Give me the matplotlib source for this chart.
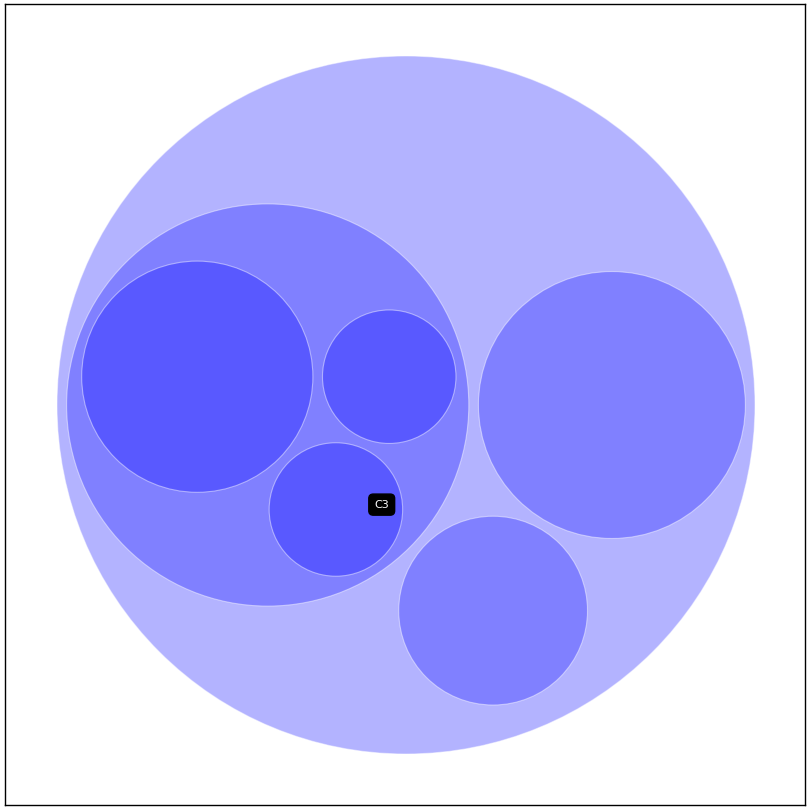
import math
import matplotlib
matplotlib.use("Agg")
import matplotlib.pyplot as plt
from matplotlib.patches import Circle

# ---- data ----
group_names = ["C", "B", "D"]
group_children = {
    "C": ["C1", "C2", "C3"],
    "B": [],
    "D": [],
}
leaf_values = {"C1": 3, "C2": 1, "C3": 1, "B": 4, "D": 2}
depth_colors = ["#b3b3ff", "#8080ff", "#5959ff"]
highlight = "C3"

# ---- d3-style circle packing ----
def basis2(a, b):
    x1, y1, r1 = a; x2, y2, r2 = b
    x21, y21, r21 = x2 - x1, y2 - y1, r2 - r1
    l = math.hypot(x21, y21)
    return ((x1 + x2 + x21 / l * r21) / 2, (y1 + y2 + y21 / l * r21) / 2, (l + r1 + r2) / 2)

def basis3(a, b, c):
    x1, y1, r1 = a; x2, y2, r2 = b; x3, y3, r3 = c
    a2 = x1 - x2; a3 = x1 - x3; b2 = y1 - y2; b3 = y1 - y3
    c2 = r2 - r1; c3 = r3 - r1
    d1 = x1 * x1 + y1 * y1 - r1 * r1
    d2 = d1 - x2 * x2 - y2 * y2 + r2 * r2
    d3 = d1 - x3 * x3 - y3 * y3 + r3 * r3
    ab = a3 * b2 - a2 * b3
    xa = (b2 * d3 - b3 * d2) / (ab * 2) - x1
    xb = (b3 * c2 - b2 * c3) / ab
    ya = (a3 * d2 - a2 * d3) / (ab * 2) - y1
    yb = (a2 * c3 - a3 * c2) / ab
    A = xb * xb + yb * yb - 1
    B = 2 * (r1 + xa * xb + ya * yb)
    C = xa * xa + ya * ya - r1 * r1
    r = -((B + math.sqrt(B * B - 4 * A * C)) / (2 * A) if abs(A) > 1e-6 else C / B)
    return (x1 + xa + xb * r, y1 + ya + yb * r, r)

def encloses(e, c):
    return e[2] - math.hypot(c[0] - e[0], c[1] - e[1]) - c[2] >= -1e-6

def enclose(cs):
    cands = list(cs)
    n = len(cs)
    for i in range(n):
        for j in range(i + 1, n):
            cands.append(basis2(cs[i], cs[j]))
            for k in range(j + 1, n):
                try:
                    cands.append(basis3(cs[i], cs[j], cs[k]))
                except Exception:
                    pass
    best = None
    for e in cands:
        if all(encloses(e, c) for c in cs):
            if best is None or e[2] < best[2]:
                best = e
    return best

def place(b, a, c_r):
    dx = b[0] - a[0]; dy = b[1] - a[1]
    d2 = dx * dx + dy * dy
    A2 = (a[2] + c_r) ** 2
    B2 = (b[2] + c_r) ** 2
    if A2 > B2:
        x = (d2 + B2 - A2) / (2 * d2)
        y = math.sqrt(max(0, B2 / d2 - x * x))
        return (b[0] - x * dx - y * dy, b[1] - x * dy + y * dx)
    x = (d2 + A2 - B2) / (2 * d2)
    y = math.sqrt(max(0, A2 / d2 - x * x))
    return (a[0] + x * dx - y * dy, a[1] + x * dy + y * dx)

def pack_siblings(radii):
    # works for up to 3 circles (enough here)
    if len(radii) == 1:
        cs = [(0.0, 0.0, radii[0])]
    else:
        ra, rb = radii[0], radii[1]
        a = (-rb, 0.0, ra); b = (ra, 0.0, rb)
        cs = [a, b]
        if len(radii) > 2:
            x, y = place(b, a, radii[2])
            cs.append((x, y, radii[2]))
    e = enclose(cs)
    return [(c[0] - e[0], c[1] - e[1], c[2]) for c in cs], e[2]

def layout(scale, pad):
    nodes = {}
    group_r = {}
    group_local = {}
    for g in group_names:
        kids = group_children[g]
        if kids:
            rads = [math.sqrt(leaf_values[k]) * scale + pad for k in kids]
            cs, e = pack_siblings(rads)
            group_local[g] = [(c[0], c[1], c[2] - pad) for c in cs]
            group_r[g] = e + pad
        else:
            group_r[g] = math.sqrt(leaf_values[g]) * scale
            group_local[g] = []
    rads = [group_r[g] + pad for g in group_names]
    cs, e = pack_siblings(rads)
    for g, c in zip(group_names, cs):
        nodes[g] = (c[0], c[1], group_r[g])
        for k, lc in zip(group_children[g], group_local[g]):
            nodes[k] = (c[0] + lc[0], c[1] + lc[1], lc[2])
    return nodes, e + pad

ROOT_R = 349.0
PAD = 4.8
lo, hi = 1.0, 300.0
for _ in range(80):
    mid = (lo + hi) / 2
    _, rr = layout(mid, PAD)
    if rr > ROOT_R:
        hi = mid
    else:
        lo = mid
nodes, root_r = layout(lo, PAD)

# ---- draw ----
W, H = 812, 811
fig = plt.figure(figsize=(W / 100, H / 100), dpi=100)
ax = fig.add_axes([5 / W, (H - 805) / H, 800 / W, 801 / H])
ax.set_xlim(0, 800)
ax.set_ylim(801, 0)
cx, cy = 401, 401

edge = (1, 1, 1, 0.45)
ax.add_patch(Circle((cx, cy), root_r, facecolor=depth_colors[0], edgecolor=edge, lw=0.8))
for g in group_names:
    x, y, r = nodes[g]
    ax.add_patch(Circle((cx + x, cy + y), r, facecolor=depth_colors[1], edgecolor=edge, lw=0.8))
    for k in group_children[g]:
        x2, y2, r2 = nodes[k]
        ax.add_patch(Circle((cx + x2, cy + y2), r2, facecolor=depth_colors[2], edgecolor=edge, lw=0.8))

hx, hy, hr = nodes[highlight]
ax.annotate(highlight, xy=(cx + hx, cy + hy), xytext=(33, 3.5), textcoords="offset points",
            ha="center", va="center", color="white", fontsize=8,
            bbox=dict(boxstyle="round,pad=0.5,rounding_size=0.4", fc="black", ec="black"))

ax.set_xticks([]); ax.set_yticks([])
for s in ax.spines.values():
    s.set_linewidth(1.0)
    s.set_color("black")

fig.savefig("out.png", dpi=100)
